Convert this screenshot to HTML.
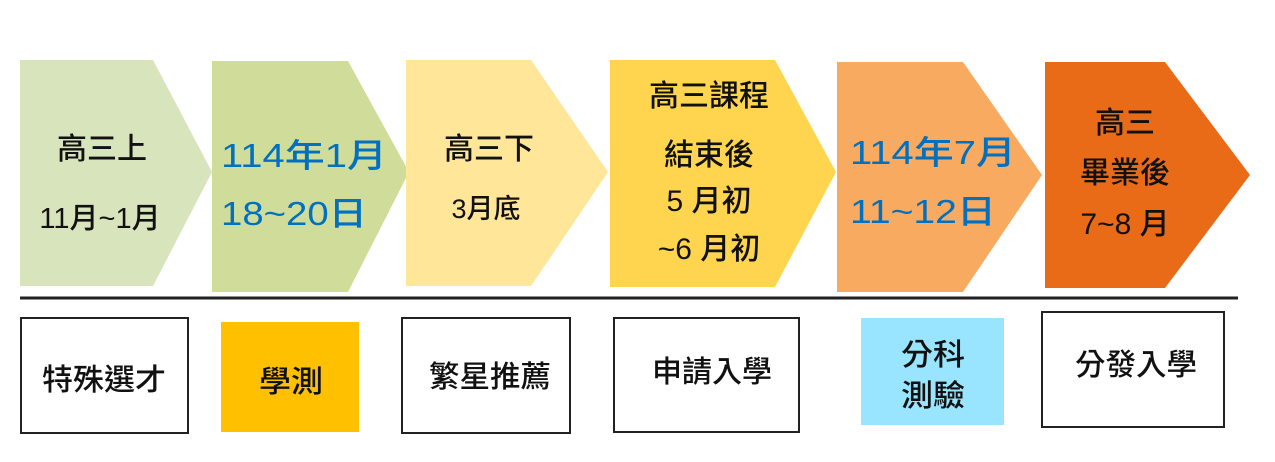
<!DOCTYPE html>
<html><head><meta charset="utf-8"><style>
html,body{margin:0;padding:0;background:#fff;}
svg{display:block;}
text{font-family:"Liberation Sans","Noto Sans CJK TC",sans-serif;font-weight:500;}
.s{font-family:"Noto Serif CJK SC","Noto Sans CJK TC",serif;font-weight:bold;}
</style></head><body>
<svg width="1275" height="462" viewBox="0 0 1275 462" xmlns="http://www.w3.org/2000/svg">
<polygon points="20,60 153,60 212,172 153,286 20,286" fill="#D8E4BC"/>
<polygon points="212,61 348,61 409,172 348,292 212,292" fill="#D0DD9A"/>
<polygon points="406,60 531,60 608,172 531,286 406,286" fill="#FFE699"/>
<polygon points="610,60 775,60 836,172 775,287 610,287" fill="#FFD54F"/>
<polygon points="837,62 963,62 1042,175 963,292 837,292" fill="#F8AA60"/>
<polygon points="1045,62 1165,62 1250,175 1165,288 1045,288" fill="#EA6B17"/>

<g fill="#111" font-size="30">
<text x="102" y="159" text-anchor="middle">高三上</text>
<text x="100" y="228" text-anchor="middle" font-size="29">11月~1月</text>
<text x="489" y="159" text-anchor="middle">高三下</text>
<text x="486" y="218" text-anchor="middle" font-size="27">3月底</text>
<text x="709" y="106" text-anchor="middle">高三課程</text>
<text x="709" y="165" text-anchor="middle">結束後</text>
<text x="709" y="211" text-anchor="middle">5 月初</text>
<text x="709" y="259" text-anchor="middle">~6 月初</text>
<text x="1125" y="133" text-anchor="middle">高三</text>
<text x="1125" y="183" text-anchor="middle">畢業後</text>
<text x="1125" y="234" text-anchor="middle">7~8 月</text>
</g>
<g fill="#0070C0" font-size="33" style="font-weight:500">
<text x="221" y="167" textLength="166" lengthAdjust="spacingAndGlyphs">114年1月</text>
<text x="221" y="225" textLength="146" lengthAdjust="spacingAndGlyphs">18~20日</text>
<text x="850" y="164" textLength="166" lengthAdjust="spacingAndGlyphs">114年7月</text>
<text x="850" y="223" textLength="146" lengthAdjust="spacingAndGlyphs">11~12日</text>
</g>

<line x1="20" y1="298" x2="1238" y2="298" stroke="#222" stroke-width="3"/>

<rect x="21" y="318" width="167" height="115" fill="#fff" stroke="#222" stroke-width="2"/>
<rect x="221" y="322" width="138" height="110" fill="#FFC000"/>
<rect x="402" y="318" width="168" height="115" fill="#fff" stroke="#222" stroke-width="2"/>
<rect x="614" y="318" width="185" height="114" fill="#fff" stroke="#222" stroke-width="2"/>
<rect x="861" y="318" width="143" height="107" fill="#99E5FF"/>
<rect x="1042" y="312" width="182" height="115" fill="#fff" stroke="#222" stroke-width="2"/>

<g class="s" fill="#111" font-size="30">
<text x="104" y="390" text-anchor="middle" textLength="124" lengthAdjust="spacingAndGlyphs">特殊選才</text>
<text x="291" y="392" text-anchor="middle" textLength="64" lengthAdjust="spacingAndGlyphs">學測</text>
<text x="490" y="387" text-anchor="middle" textLength="122" lengthAdjust="spacingAndGlyphs">繁星推薦</text>
<text x="712" y="382" text-anchor="middle" textLength="120" lengthAdjust="spacingAndGlyphs">申請入學</text>
<text x="933" y="365" text-anchor="middle" textLength="64" lengthAdjust="spacingAndGlyphs">分科</text>
<text x="933" y="406" text-anchor="middle" textLength="64" lengthAdjust="spacingAndGlyphs">測驗</text>
<text x="1136" y="375" text-anchor="middle" textLength="122" lengthAdjust="spacingAndGlyphs">分發入學</text>
</g>
</svg>
</body></html>
